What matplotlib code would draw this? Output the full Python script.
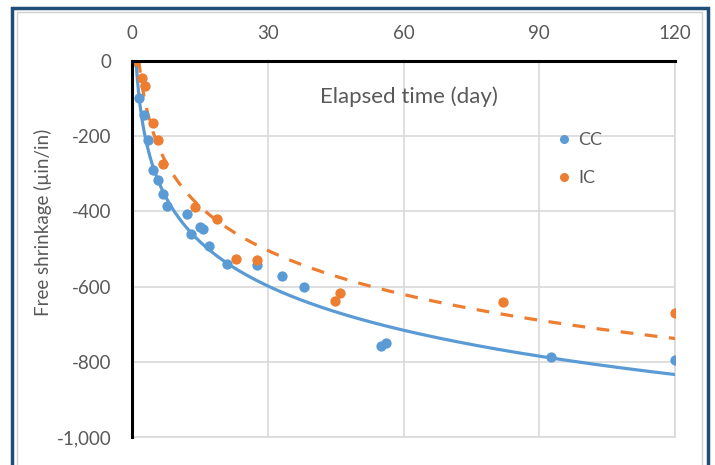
import numpy as np
import matplotlib
matplotlib.use("Agg")
import matplotlib.pyplot as plt
from matplotlib.patches import Rectangle
from matplotlib.ticker import FuncFormatter
from matplotlib.lines import Line2D

plt.rcParams['font.family'] = ['Lato', 'DejaVu Sans']

# Data (elapsed time in days, free shrinkage in microstrain)
cc_days = [0.5, 1.5, 2.7, 3.6, 4.7, 5.8, 6.9, 7.7, 12.2, 13.1, 15.1, 15.8, 17.0,
           21.0, 27.7, 33.1, 38.0, 55.1, 56.2, 92.5, 120.0]
cc_vals = [0, -99, -144, -209, -289, -317, -355, -386, -408, -460, -442, -446, -491,
           -540, -542, -571, -602, -757, -749, -787, -795]
ic_days = [0.7, 2.1, 2.9, 4.6, 5.8, 6.9, 14.0, 18.8, 23.0, 27.7, 44.9, 45.9, 82.0, 120.0]
ic_vals = [0, -44, -67, -166, -211, -273, -388, -419, -526, -530, -637, -617, -642, -671]

# Logarithmic trendline coefficients (y = a*ln(t) + b)
cc_trend = (-170.0, -20.0)
ic_trend = (-169.0, 71.0)

x_ticks = [0, 30, 60, 90, 120]
y_ticks = [0, -200, -400, -600, -800, -1000]

blue = '#5B9BD5'
orange = '#ED7D31'
gray_txt = '#595959'

W, H = 715, 465
fig = plt.figure(figsize=(W / 100, H / 100), dpi=100)
ax = fig.add_axes([132 / W, 1 - 437 / H, (675 - 132) / W, (437 - 61) / H])

# trendlines
t_cc = np.linspace(0.9, max(cc_days), 400)
t_ic = np.linspace(min(ic_days), max(ic_days), 400)
ax.plot(t_cc, cc_trend[0] * np.log(t_cc) + cc_trend[1], color=blue, lw=2.3, zorder=3)
ax.plot(t_ic, ic_trend[0] * np.log(t_ic) + ic_trend[1], color=orange, lw=2.3,
        dashes=(4, 3.6), zorder=3)

ax.scatter(cc_days, cc_vals, s=55, color=blue, zorder=4, linewidths=0)
ax.scatter(ic_days, ic_vals, s=55, color=orange, zorder=4, linewidths=0)

ax.set_xlim(0, 120)
ax.set_ylim(-1000, 0)
ax.set_xticks(x_ticks)
ax.set_yticks(y_ticks)
ax.yaxis.set_major_formatter(FuncFormatter(lambda v, p: f"{v:,.0f}"))
ax.xaxis.tick_top()
ax.tick_params(axis='x', length=0, pad=14, labelsize=13.5, labelcolor=gray_txt)
ax.tick_params(axis='y', length=0, pad=15, labelsize=13.5, labelcolor=gray_txt)
ax.grid(True, color='#D9D9D9', lw=1.2, zorder=0)
ax.set_axisbelow(True)

for s in ['bottom', 'right']:
    ax.spines[s].set_color('#D9D9D9')
    ax.spines[s].set_linewidth(1.2)
for s in ['top', 'left']:
    ax.spines[s].set_color('black')
    ax.spines[s].set_linewidth(2.2)
    ax.spines[s].set_zorder(5)

fig.text(408.5 / W, 1 - 97 / H, 'Elapsed time (day)', ha='center',
         va='center', fontsize=16, color=gray_txt)
fig.text(43 / W, 1 - 222 / H, 'Free shrinkage (µin/in)', rotation=90, ha='center',
         va='center', fontsize=13.5, color=gray_txt)

handles = [Line2D([], [], ls='', marker='o', ms=6.5, color=blue, mec='none'),
           Line2D([], [], ls='', marker='o', ms=6.5, color=orange, mec='none')]
fig.legend(handles, ['CC', 'IC'], loc='upper left', bbox_to_anchor=(537 / W, 1 - 116 / H),
           frameon=False, fontsize=13, handletextpad=0.18, labelspacing=1.2,
           handlelength=1.2, borderpad=0.4, labelcolor=gray_txt)

fig.patches.append(Rectangle((17 / W, -0.1), (702 - 17) / W, 0.1 + 1 - 12 / H,
                             transform=fig.transFigure, fill=False, ec='#D0D0D0', lw=1))
fig.patches.append(Rectangle((12 / W, -0.1), (708 - 12) / W, 0.1 + 1 - 8 / H,
                             transform=fig.transFigure, fill=False, ec='#1F4E79', lw=2.5))

fig.savefig('out.png', dpi=100)
